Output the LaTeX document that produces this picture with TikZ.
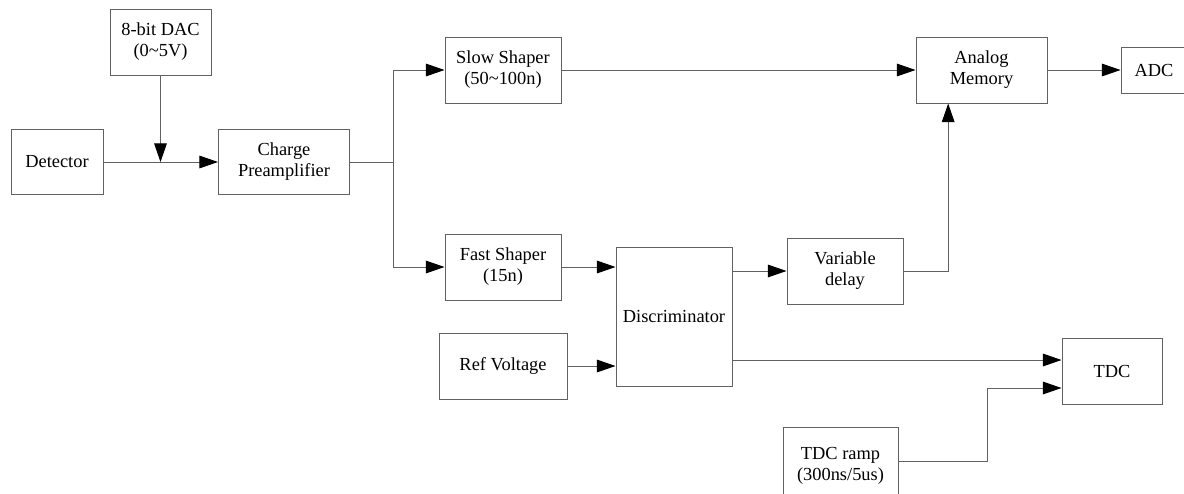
\documentclass[tikz,border=0pt]{standalone}
\usepackage{fontspec}
\setmainfont{Liberation Serif}
\usetikzlibrary{arrows.meta}
\begin{document}
\begin{tikzpicture}[x=0.75pt,y=-0.75pt,
  box/.style={draw=black!62, line width=0.75pt, fill=white, inner sep=0pt, align=center,
    font=\fontsize{13.8}{15.75}\selectfont},
  wire/.style={draw=black!62, line width=0.75pt},
  arr/.style={wire, -{Triangle[length=14pt,width=9.5pt,color=black,fill=black]}}]
\useasboundingbox (0,0) rectangle (1184,493);
\clip (0,0) rectangle (1184,493);
\fill[white] (0,0) rectangle (1184,493);

\node[box, minimum width=69pt,    minimum height=48.75pt] (det)  at (57,162)    {Detector};
\node[box, minimum width=75.75pt, minimum height=49.5pt]  (dac)  at (160.5,42)  {8-bit DAC\\(0\textasciitilde5V)};
\node[box, minimum width=98.25pt, minimum height=48.75pt] (pre)  at (284,162)   {Charge\\Preamplifier};
\node[box, minimum width=87pt,    minimum height=49.5pt]  (slow) at (503,70)    {Slow Shaper\\(50\textasciitilde100n)};
\node[box, minimum width=98.25pt, minimum height=49.5pt]  (mem)  at (981.5,70)  {Analog\\Memory};
\node[box, minimum width=49.5pt,  minimum height=34.5pt]  (adc)  at (1154,70)   {ADC};
\node[box, minimum width=87pt,    minimum height=49.5pt]  (fast) at (503,267)   {Fast Shaper\\(15n)};
\node[box, minimum width=87pt,    minimum height=104.25pt](disc) at (674,316.5) {Discriminator};
\node[box, minimum width=87pt,    minimum height=49.5pt]  (vd)   at (845,271)   {Variable\\delay};
\node[box, minimum width=96pt,    minimum height=49.5pt]  (ref)  at (503,366)   {Ref Voltage};
\node[box, minimum width=75pt,    minimum height=49.5pt]  (tdc)  at (1112,371)  {TDC};
\node[box, minimum width=86.25pt, minimum height=58.5pt]  (ramp) at (840.5,466) {TDC ramp\\(300ns/5us)};

\coordinate (br) at (393,162);
\coordinate (bend) at (987,400);
\coordinate (t1) at ([yshift=8.25pt]tdc.west);
\coordinate (t2) at ([yshift=-12.75pt]tdc.west);

\draw[arr] (det.east) -- (pre.west);
\draw[arr] (dac.south) -- (dac.south |- det.east);
\draw[wire] (pre.east) -- (br);
\draw[arr] (br) |- (slow.west);
\draw[arr] (br) |- (fast.west);
\draw[arr] (slow.east) -- (mem.west);
\draw[arr] (mem.east) -- (adc.west);
\draw[arr] (fast.east) -- (fast.east -| disc.west);
\draw[arr] (ref.east) -- (ref.east -| disc.west);
\draw[arr] (disc.east |- vd.west) -- (vd.west);
\draw[arr] (vd.east) -| ([xshift=-25pt]mem.south);
\draw[arr] (disc.east |- t1) -- (t1);
\draw[arr] ([yshift=3.75pt]ramp.east) -| (bend |- t2) -- (t2);
\end{tikzpicture}
\end{document}
